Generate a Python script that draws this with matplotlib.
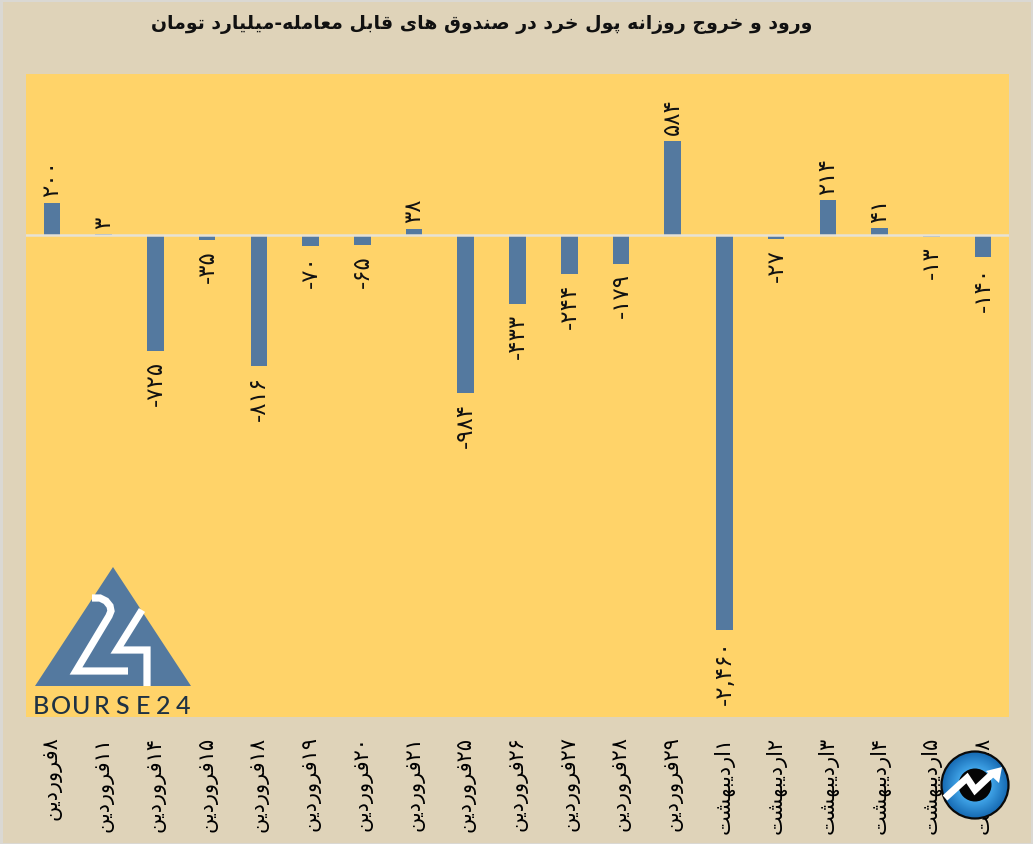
import numpy as np
import matplotlib
matplotlib.use("Agg")
import matplotlib.pyplot as plt
from matplotlib.colors import LinearSegmentedColormap
from matplotlib.patches import Circle, Polygon, Rectangle

# presentation forms: isolated, final, initial, medial (matplotlib does no shaping)
FORMS = {
    "ا": (0xFE8D, 0xFE8E), "د": (0xFEA9, 0xFEAA), "ر": (0xFEAD, 0xFEAE),
    "ز": (0xFEAF, 0xFEB0), "و": (0xFEED, 0xFEEE),
    "ب": (0xFE8F, 0xFE90, 0xFE91, 0xFE92), "پ": (0xFB56, 0xFB57, 0xFB58, 0xFB59),
    "ت": (0xFE95, 0xFE96, 0xFE97, 0xFE98), "ج": (0xFE9D, 0xFE9E, 0xFE9F, 0xFEA0),
    "خ": (0xFEA5, 0xFEA6, 0xFEA7, 0xFEA8), "ش": (0xFEB5, 0xFEB6, 0xFEB7, 0xFEB8),
    "ص": (0xFEB9, 0xFEBA, 0xFEBB, 0xFEBC), "ع": (0xFEC9, 0xFECA, 0xFECB, 0xFECC),
    "ف": (0xFED1, 0xFED2, 0xFED3, 0xFED4), "ق": (0xFED5, 0xFED6, 0xFED7, 0xFED8),
    "ل": (0xFEDD, 0xFEDE, 0xFEDF, 0xFEE0), "م": (0xFEE1, 0xFEE2, 0xFEE3, 0xFEE4),
    "ن": (0xFEE5, 0xFEE6, 0xFEE7, 0xFEE8), "ه": (0xFEE9, 0xFEEA, 0xFEEB, 0xFEEC),
    "ی": (0xFBFC, 0xFBFD, 0xFBFE, 0xFBFF),
}
FA_DIGITS = str.maketrans("0123456789", "۰۱۲۳۴۵۶۷۸۹")

days = [8, 11, 14, 15, 18, 19, 20, 21, 25, 26, 27, 28, 29, 1, 2, 3, 4, 5, 8]
months = ["فروردین"] * 13 + ["اردیبهشت"] * 6
values = [200, 3, -725, -35, -816, -70, -65, 38, -984, -433, -244, -179, 584,
          -2460, -27, 214, 41, -13, -140]
title = "ورود و خروج روزانه پول خرد در صندوق های قابل معامله-میلیارد تومان"
brand = "BOURSE24"

PAGE = "#DFD3B9"
PLOT = "#FFD369"
BAR = "#54799F"


def shape(text):
    # returns text in visual order, left to right
    out = []
    for i, ch in enumerate(text):
        if ch not in FORMS:
            out.append(ch)
            continue
        prev = text[i - 1] if i > 0 else ""
        nxt = text[i + 1] if i + 1 < len(text) else ""
        joins_prev = prev in FORMS and len(FORMS[prev]) == 4
        joins_next = nxt in FORMS and len(FORMS[ch]) == 4
        f = FORMS[ch]
        if joins_prev and joins_next:
            out.append(chr(f[3]))
        elif joins_prev:
            out.append(chr(f[1]))
        elif joins_next:
            out.append(chr(f[2]))
        else:
            out.append(chr(f[0]))
    return "".join(out[::-1])


x = np.arange(len(values))
labels = [shape(m) + str(d).translate(FA_DIGITS) for d, m in zip(days, months)]

fig = plt.figure(figsize=(10.33, 8.44), dpi=100, facecolor="#DAD8D3")
W, H = 1033, 844
fig.patches.append(Rectangle((3 / W, 1 / H), (W - 5) / W, (H - 3) / H, transform=fig.transFigure,
                             facecolor=PAGE, edgecolor="none", zorder=-1))

ax = fig.add_axes([26 / W, 1 - 717 / H, 983 / W, 643 / H], facecolor=PLOT)
ax.bar(x, values, width=0.32, color=BAR, zorder=2)
ax.axhline(0, color="#E6E2D6", linewidth=1.8, zorder=3)
ax.set_xlim(-0.5, len(values) - 0.5)
ax.set_ylim(-3000, 1000)
ax.set_yticks([])
ax.set_xticks(x)
ax.set_xticklabels(labels, rotation=90, fontsize=15, va="top", ha="center")
ax.tick_params(axis="x", length=0, pad=14)
for s in ax.spines.values():
    s.set_visible(False)

for xi, v in zip(x, values):
    ax.annotate(f"{v:,}".translate(FA_DIGITS), (xi, v), xytext=(0, 4 if v > 0 else -7),
                textcoords="offset points", rotation=90, ha="center",
                va="bottom" if v > 0 else "top", fontsize=16.5, color="#111111", zorder=4)

fig.text(482 / W, 1 - 25 / H, shape(title), fontsize=13.6, fontweight="bold",
         ha="center", va="center", color="#111111")

# overlay in image pixels for the two logos
ov = fig.add_axes([0, 0, 1, 1], facecolor="none")
ov.axis("off")

ov.add_patch(Polygon([(113, 567), (35, 686), (191, 686)], facecolor=BAR, edgecolor="none"))
ov.plot([92, 100, 106, 110, 111, 109, 76, 128], [598, 598, 601, 606, 611, 616, 671, 671],
        color="white", lw=5.2, solid_joinstyle="miter", solid_capstyle="butt")
ov.plot([142, 117, 147, 147], [610, 650, 650, 686], color="white", lw=5.2,
        solid_joinstyle="miter", solid_capstyle="butt")
for i, ch in enumerate(brand):
    ov.text(41 + i * 20.3, 707, ch, fontsize=18, family="Lato", fontweight="medium",
            color="#1F3244", ha="center", va="center")

# round logo, bottom right
yy, xx = np.mgrid[-1:1:120j, -1:1:120j]
grad = np.clip(np.hypot(xx, yy), 0, 1)
cmap = LinearSegmentedColormap.from_list("b", ["#5DB9F2", "#3FA2E6", "#1467B0"])
im = ov.imshow(grad, extent=(941, 1009, 819, 751), cmap=cmap, aspect="auto", zorder=5)
im.set_clip_path(Circle((975, 785), 33.5, transform=ov.transData))
ov.add_patch(Circle((975, 785), 33.5, facecolor="none", edgecolor="#0A0A0A", lw=1.6, zorder=6))
ov.add_patch(Circle((975, 785), 16.5, facecolor="#050505", edgecolor="none", zorder=6))
ov.plot([945, 967, 975, 993], [798, 778, 790, 773], color="white", lw=5,
        solid_joinstyle="miter", solid_capstyle="butt", zorder=7)
ov.add_patch(Polygon([(1002, 767), (999, 783), (986, 771)], facecolor="white", edgecolor="none", zorder=7))

ov.set_xlim(0, W)
ov.set_ylim(H, 0)

fig.savefig("out.png", dpi=100, facecolor=fig.get_facecolor())
